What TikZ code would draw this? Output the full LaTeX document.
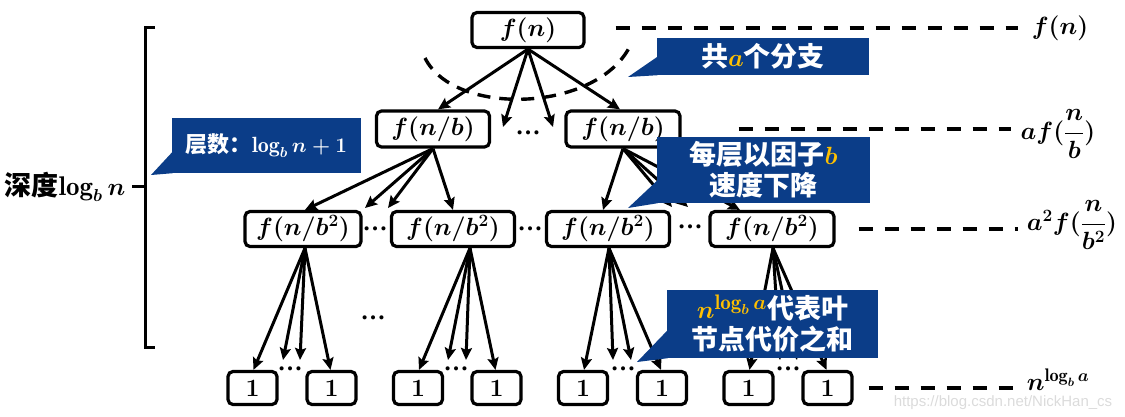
\documentclass[tikz,border=0pt]{standalone}
\usepackage{fontspec}
\usepackage{amsmath}
\newfontfamily\cjk{Noto Sans CJK SC}
\newfontfamily\wmfont{Liberation Sans}
\newfontfamily\dotfont{Liberation Serif}
\usetikzlibrary{arrows.meta}
\definecolor{cbg}{RGB}{11,61,136}
\definecolor{hl}{RGB}{255,192,0}
\tikzset{
 tbox/.style={draw, line width=3.2pt, rounded corners=5pt, inner sep=0pt, minimum height=35pt, font=\fontsize{26}{30}\selectfont\boldmath},
 leaf/.style={tbox, minimum width=49pt, minimum height=33pt},
 arr/.style={line width=3pt, -{Stealth[length=12pt,width=11pt,inset=2pt]}},
 guide/.style={line width=3.4pt, dash pattern=on 14pt off 12pt},
 dotn/.style={inner sep=0pt, text height=4pt, text depth=0pt, font=\dotfont\bfseries\fontsize{25}{28}\selectfont},
 call/.style={fill=cbg, text=white, inner sep=0pt, align=center, font=\fontsize{27}{33}\selectfont\boldmath\cjk\bfseries},
 lab/.style={inner sep=0pt, font=\fontsize{26}{30}\selectfont\boldmath},
}
\begin{document}
\begin{tikzpicture}[x=1pt,y=-1pt]
\useasboundingbox (0,0) rectangle (1125,417);
% tree nodes
\node[tbox, minimum width=112pt] (r) at (528,30) {$f(n)$};
\node[tbox, minimum width=113pt, minimum height=36pt] (l1a) at (433,129) {$f(n/b)$};
\node[tbox, minimum width=114pt, minimum height=36pt] (l1b) at (623,129) {$f(n/b)$};
\node[tbox, minimum width=116pt] (A) at (303,229) {$f(n/b^2)$};
\node[tbox, minimum width=123pt] (B) at (453,229) {$f(n/b^2)$};
\node[tbox, minimum width=123pt] (C) at (608,229) {$f(n/b^2)$};
\node[tbox, minimum width=124pt] (D) at (772,229) {$f(n/b^2)$};
\node[leaf] (e1) at (252.5,388) {$1$};
\node[leaf] (e2) at (331.5,388) {$1$};
\node[leaf] (e3) at (418,388) {$1$};
\node[leaf] (e4) at (496.5,388) {$1$};
\node[leaf] (e5) at (583,388) {$1$};
\node[leaf] (e6) at (662,388) {$1$};
\node[leaf] (e7) at (748.5,388) {$1$};
\node[leaf] (e8) at (827.5,388) {$1$};
% dots
\node[dotn] (d0) at (528,133) {…};
\node[dotn] (d1) at (375,228) {…};
\node[dotn] (d2) at (530,228) {…};
\node[dotn] (d3) at (690,227) {…};
\node[dotn] (d4) at (373,317) {…};
\node[dotn] (d5) at (290,368) {…};
\node[dotn] (d6) at (456,368) {…};
\node[dotn] (d7) at (623,368) {…};
\node[dotn] (d8) at (788,368) {…};
% free arrow ends
\coordinate (m1) at (503,127);
\coordinate (m2) at (553,127);
\coordinate (m3) at (365,208);
\coordinate (m4) at (388,208);
\coordinate (m5) at (672,207);
\coordinate (m6) at (688,207);
\coordinate (a1) at (283,360);
\coordinate (a2) at (300,360);
\coordinate (b1) at (448,360);
\coordinate (b2) at (466,360);
\coordinate (c1) at (613,360);
\coordinate (c2) at (631,360);
\coordinate (f1) at (780,360);
\coordinate (f2) at (797,360);
% arrows
\draw[arr] (r.south) -- ([xshift=5pt]l1a.north);
\draw[arr] (r.south) -- (m1);
\draw[arr] (r.south) -- (m2);
\draw[arr] (r.south) -- ([xshift=-3pt]l1b.north);
\draw[arr] (l1a.south) -- ([xshift=2pt]A.north);
\draw[arr] (l1a.south) -- (m3);
\draw[arr] (l1a.south) -- (m4);
\draw[arr] (l1a.south) -- (B.north);
\draw[arr] (l1b.south) -- ([xshift=-5pt]C.north);
\draw[arr] (l1b.south) -- (m5);
\draw[arr] (l1b.south) -- (m6);
\draw[arr] (l1b.south) -- ([xshift=-32pt]D.north);
\foreach \p/\u/\v/\w/\z/\s in {A/e1/a1/a2/e2/2pt, B/e3/b1/b2/e4/17pt, C/e5/c1/c2/e6/1pt, D/e7/f1/f2/e8/1pt}{
  \draw[arr] ([xshift=\s]\p.south) -- ([xshift=1pt]\u.north);
  \draw[arr] ([xshift=\s]\p.south) -- (\v);
  \draw[arr] ([xshift=\s]\p.south) -- (\w);
  \draw[arr] ([xshift=\s]\p.south) -- ([xshift=-1pt]\z.north);
}
% dashed arc
\coordinate (k1) at (425,58);
\coordinate (k2) at (631,44);
\draw[guide, dash pattern=on 13pt off 9pt] (k1) .. controls (455,118) and (600,112) .. (k2);
% right labels
\node[lab] (rl1) at (1060,28) {$f(n)$};
\node[lab] (rl2) at (1058,134) {$af(\dfrac{n}{b})$};
\node[lab] (rl3) at (1072,225) {$a^2f(\dfrac{n}{b^2})$};
\node[lab] (rl4) at (1058,380) {$n^{\log_b a}$};
\draw[guide] ([xshift=30pt]r.east |- rl1.west) -- ([xshift=-14pt]rl1.west);
\draw[guide] ([xshift=57pt]l1b.east) -- ([xshift=-10pt]rl2.west |- l1b.east);
\draw[guide] ([xshift=23pt]D.east) -- ([xshift=-9pt]rl3.west |- D.east);
\draw[guide] ([xshift=15pt]e8.east) -- ([xshift=-14pt]rl4.west |- e8.east);
% bracket and depth label
\draw[line width=3pt] (155,28) -- (145,28) -- (145,347) -- (155,347);
\node[lab, font=\fontsize{27}{30}\selectfont\boldmath] (dep) at (65,187) {{\cjk\bfseries 深度}$\log_b n$};
\draw[line width=3pt] ([xshift=7pt]dep.east) -- (145,187);
% callouts
\node[call, minimum width=189pt, minimum height=55pt, font=\fontsize{22}{26}\selectfont\boldmath\cjk\bfseries] (c1) at (266.5,145.5) {层数：$\log_b n+1$};
\coordinate (t1) at (151,175);
\fill[cbg] (t1) -- ([xshift=1pt,yshift=-6pt]c1.west) -- ([xshift=1pt]c1.south west) -- cycle;
\node[call, minimum width=212pt, minimum height=37pt] (cc2) at (763,56.5) {共{\color{hl}\fontsize{30}{33}\selectfont$a$}个分支};
\coordinate (t2) at (628,77);
\fill[cbg] (t2) -- ([xshift=1pt]cc2.west) -- ([xshift=1pt]cc2.south west) -- cycle;
\node[call, minimum width=213pt, minimum height=66pt] (cc3) at (763.5,170) {每层以因子{\color{hl}\fontsize{30}{33}\selectfont$b$}\\[-2pt]速度下降};
\coordinate (t3) at (628,208);
\fill[cbg] (t3) -- ([xshift=1pt,yshift=-10pt]cc3.west) -- ([xshift=1pt]cc3.south west) -- cycle;
\node[call, minimum width=211pt, minimum height=68pt] (cc4) at (772.5,324) {{\color{hl}\fontsize{30}{33}\selectfont$n^{\log_b a}$}代表叶\\[-2pt]节点代价之和};
\coordinate (t4) at (637,362);
\fill[cbg] (t4) -- ([xshift=1pt,yshift=-6pt]cc4.west) -- ([xshift=1pt]cc4.south west) -- cycle;
% watermark
\node[inner sep=0pt, text=black!14, font=\wmfont\fontsize{15}{18}\selectfont] (wm) at (1003,403) {https://blog.csdn.net/NickHan\_cs};
\end{tikzpicture}
\end{document}
